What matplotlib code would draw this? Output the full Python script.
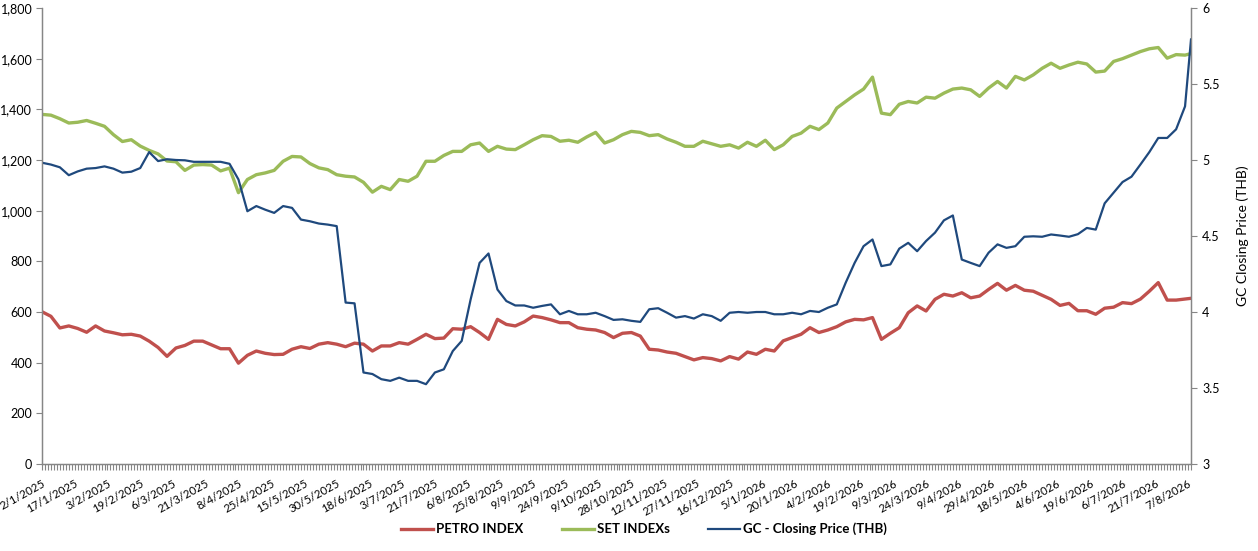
import numpy as np
import matplotlib
matplotlib.use("Agg")
import matplotlib.pyplot as plt
from matplotlib.ticker import FuncFormatter, MultipleLocator, FixedLocator

plt.rcParams['font.family'] = ['Lato', 'DejaVu Sans']

date_labels = ["2/1/2025", "17/1/2025", "3/2/2025", "19/2/2025", "6/3/2025", "21/3/2025",
               "8/4/2025", "25/4/2025", "15/5/2025", "30/5/2025", "18/6/2025", "3/7/2025",
               "21/7/2025", "6/8/2025", "25/8/2025", "9/9/2025", "24/9/2025", "9/10/2025",
               "28/10/2025", "12/11/2025", "27/11/2025", "16/12/2025", "5/1/2026", "20/1/2026",
               "4/2/2026", "19/2/2026", "9/3/2026", "24/3/2026", "9/4/2026", "29/4/2026",
               "18/5/2026", "4/6/2026", "19/6/2026", "6/7/2026", "21/7/2026", "7/8/2026"]

# trading-day index of each sampled value
day = np.r_[np.arange(0, 385, 3), 386]

set_index = [1380, 1377, 1363, 1346, 1349, 1356, 1345, 1333, 1300, 1273,
             1280, 1255, 1238, 1224, 1196, 1193, 1159, 1180, 1182, 1180,
             1157, 1168, 1071, 1123, 1142, 1149, 1159, 1195, 1214, 1212,
             1186, 1169, 1162, 1142, 1136, 1133, 1112, 1073, 1096, 1083,
             1123, 1116, 1136, 1195, 1195, 1218, 1234, 1234, 1260, 1267,
             1234, 1254, 1243, 1241, 1260, 1280, 1296, 1293, 1274, 1278,
             1270, 1291, 1309, 1267, 1280, 1300, 1313, 1309, 1296, 1300,
             1283, 1270, 1254, 1254, 1274, 1264, 1254, 1260, 1247, 1270,
             1254, 1278, 1241, 1260, 1293, 1306, 1333, 1320, 1346, 1405,
             1431, 1457, 1480, 1527, 1385, 1379, 1420, 1431, 1425, 1448,
             1444, 1464, 1480, 1484, 1477, 1451, 1484, 1510, 1484, 1530,
             1516, 1536, 1562, 1582, 1562, 1575, 1586, 1579, 1547, 1551,
             1589, 1600, 1614, 1628, 1639, 1644, 1602, 1616, 1614,
             1620]

petro_index = [601, 583, 537, 545, 535, 520, 545, 525, 518, 510,
               512, 505, 485, 460, 425, 458, 468, 485, 485, 470,
               455, 455, 398, 429, 446, 437, 432, 433, 453, 463,
               456, 473, 479, 473, 463, 477, 473, 446, 466, 466,
               479, 473, 492, 512, 495, 497, 534, 532, 542, 519,
               492, 571, 551, 545, 561, 584, 578, 569, 558, 558,
               538, 532, 529, 519, 499, 516, 519, 505, 453, 450,
               442, 437, 424, 411, 420, 416, 407, 424, 414, 442,
               433, 453, 446, 486, 499, 512, 538, 519, 529, 542,
               561, 571, 569, 578, 492, 516, 538, 597, 624, 604,
               650, 670, 663, 676, 656, 663, 689, 713, 686, 705,
               686, 682, 666, 650, 626, 634, 605, 605, 591, 615,
               619, 637, 633, 651, 682, 716, 647, 647, 651,
               654]

gc_price = [4.982, 4.970, 4.952, 4.900, 4.925, 4.943, 4.947, 4.958, 4.943, 4.917,
            4.923, 4.947, 5.052, 4.993, 5.005, 5.000, 4.998, 4.988, 4.988, 4.988,
            4.988, 4.975, 4.872, 4.663, 4.697, 4.673, 4.652, 4.697, 4.685, 4.608,
            4.597, 4.582, 4.575, 4.565, 4.062, 4.057, 3.602, 3.592, 3.558, 3.547,
            3.568, 3.547, 3.547, 3.525, 3.602, 3.623, 3.743, 3.810, 4.083, 4.323,
            4.385, 4.148, 4.072, 4.043, 4.043, 4.028, 4.040, 4.050, 3.985, 4.007,
            3.985, 3.985, 3.995, 3.973, 3.948, 3.952, 3.942, 3.935, 4.018, 4.025,
            3.995, 3.963, 3.973, 3.957, 3.985, 3.973, 3.942, 3.995, 4.000, 3.995,
            4.000, 4.000, 3.985, 3.985, 3.995, 3.985, 4.007, 4.000, 4.028, 4.050,
            4.193, 4.323, 4.433, 4.477, 4.302, 4.313, 4.417, 4.455, 4.400, 4.467,
            4.522, 4.603, 4.635, 4.345, 4.323, 4.302, 4.390, 4.445, 4.422, 4.433,
            4.495, 4.498, 4.495, 4.510, 4.503, 4.495, 4.512, 4.553, 4.542, 4.715,
            4.785, 4.855, 4.890, 4.970, 5.052, 5.145, 5.145, 5.202, 5.353,
            5.793]

series_names = ["PETRO INDEX", "SET INDEXs", "GC - Closing Price (THB)"]
colors = ["#C0504D", "#9BBB59", "#1F497D"]
axis_grey = "#868686"

W, H = 1258, 551
fig = plt.figure(figsize=(W / 100, H / 100), dpi=100)
ax = fig.add_axes([42 / W, (H - 464) / H, (1191 - 42) / W, (464 - 8) / H])
ax2 = ax.twinx()

l1, = ax.plot(day, petro_index, color=colors[0], lw=2.4, solid_joinstyle="round")
l2, = ax.plot(day, set_index, color=colors[1], lw=2.4, solid_joinstyle="round")
l3, = ax2.plot(day, gc_price, color=colors[2], lw=1.6, solid_joinstyle="round")

ax.set_xlim(0, 386)
ax.set_ylim(0, 1800)
ax2.set_ylim(3, 6)

ax.yaxis.set_major_locator(MultipleLocator(200))
ax.yaxis.set_major_formatter(FuncFormatter(lambda v, p: f"{v:,.0f}"))
ax2.yaxis.set_major_locator(MultipleLocator(0.5))
ax2.yaxis.set_major_formatter(FuncFormatter(lambda v, p: f"{v:g}"))

tick_pos = np.arange(len(date_labels)) * 11
ax.xaxis.set_major_locator(FixedLocator(tick_pos))
ax.xaxis.set_minor_locator(MultipleLocator(1))
ax.set_xticklabels(date_labels, rotation=29, ha="right", va="top",
                   rotation_mode="anchor", fontsize=8.2)

for a in (ax, ax2):
    for s in a.spines.values():
        s.set_color(axis_grey)
        s.set_linewidth(0.9)
    a.spines["top"].set_visible(False)
    a.tick_params(which="both", color=axis_grey, direction="out", length=4,
                  width=0.8, labelsize=9, labelcolor="black")
ax.tick_params(axis="x", which="both", length=4, pad=6, labelsize=8.2)
ax.tick_params(axis="y", pad=3)
ax2.tick_params(axis="y", pad=4)

ax2.set_ylabel("GC Closing Price (THB)", fontsize=10, labelpad=12)

fig.legend([l1, l2, l3], series_names, loc="center", bbox_to_anchor=(0.512, 0.040),
           ncol=3, frameon=False, prop={"weight": "bold", "size": 9.5},
           handlelength=2.4, columnspacing=2.9, handletextpad=0.25)

fig.savefig("out.png", dpi=100)
